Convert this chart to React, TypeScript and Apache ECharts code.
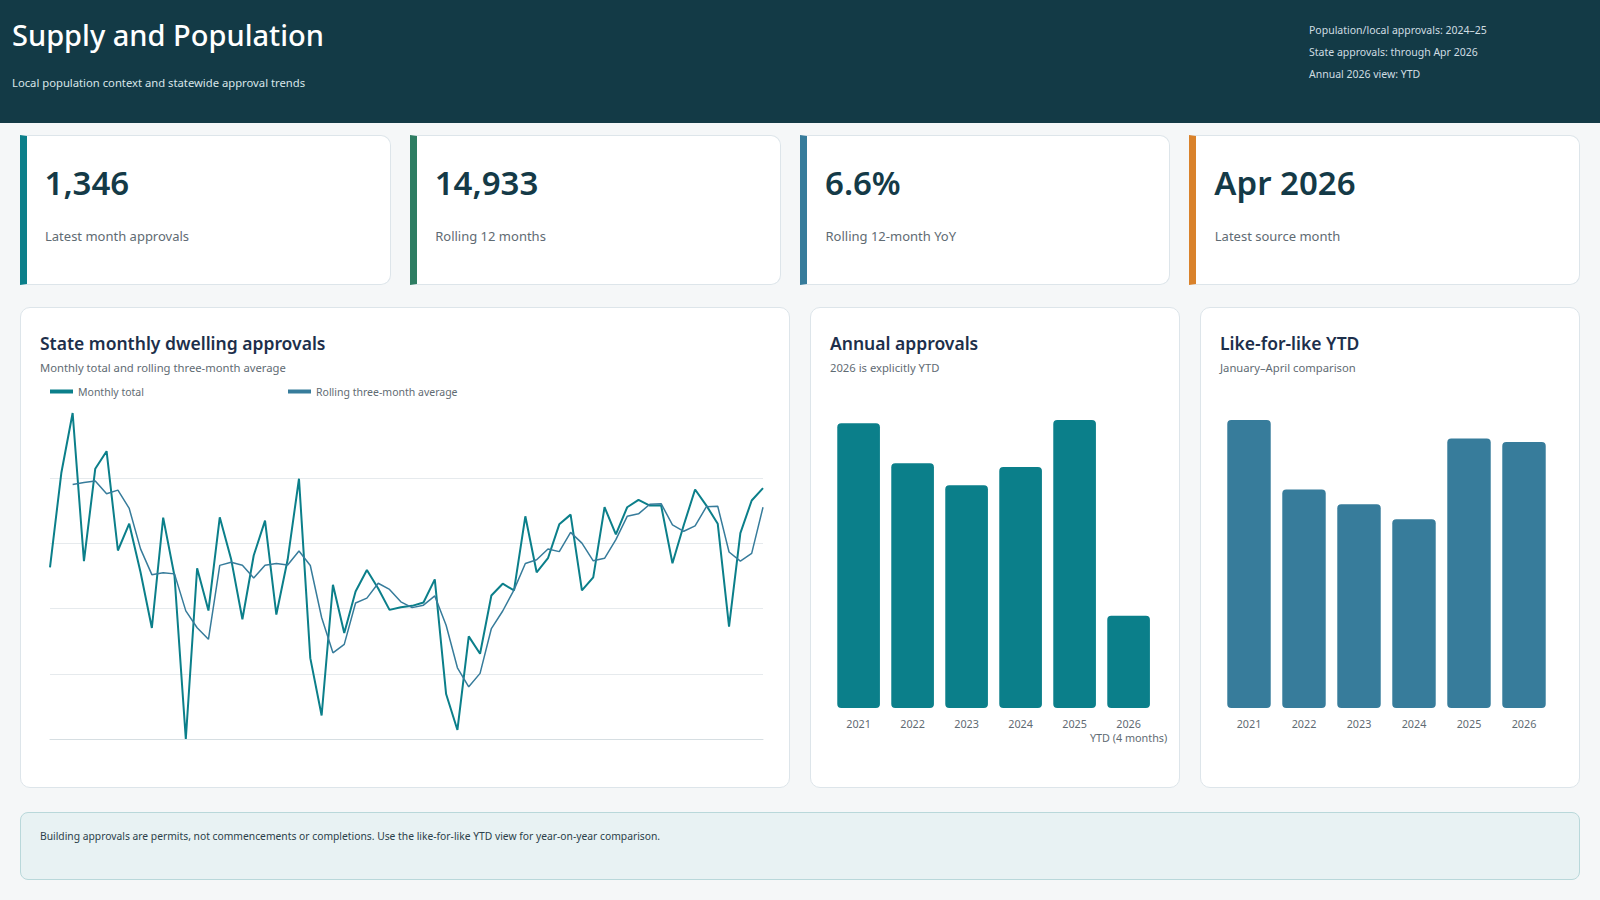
import React, { useEffect, useRef } from "react";
import * as echarts from "echarts";

// Monthly state dwelling approvals, Jan 2021 – Apr 2026
const monthly2021 = [1110, 1391, 1570, 1128, 1404, 1456, 1160, 1240, 1095, 929, 1258, 1084];
const monthly2022 = [598, 1107, 981, 1259, 1135, 955, 1145, 1249, 969, 1133, 1374, 839];
const monthly2023 = [668, 1058, 914, 1038, 1102, 1047, 983, 991, 995, 1005, 1074, 732];
const monthly2024 = [625, 904, 852, 1026, 1061, 1041, 1262, 1095, 1137, 1238, 1267, 1041];
const monthly2025 = [1080, 1289, 1208, 1289, 1311, 1294, 1294, 1122, 1236, 1342, 1294, 1240];
const monthly2026 = [933, 1212, 1309, 1346];

const years = ["2021", "2022", "2023", "2024", "2025", "2026"];
const monthNames = ["Jan", "Feb", "Mar", "Apr", "May", "Jun", "Jul", "Aug", "Sep", "Oct", "Nov", "Dec"];
const annualLabels = ["2021", "2022", "2023", "2024", "2025", "2026\nYTD (4 months)"];
const ytdLabels = ["2021", "2022", "2023", "2024", "2025", "2026"];
const ytdMonths = 4;

const kpiValues = ["1,346", "14,933", "6.6%", "Apr 2026"];
const kpiLabels = ["Latest month approvals", "Rolling 12 months", "Rolling 12-month YoY", "Latest source month"];
const metaLines = ["Population/local approvals: 2024–25", "State approvals: through Apr 2026", "Annual 2026 view: YTD"];

const byYear = [monthly2021, monthly2022, monthly2023, monthly2024, monthly2025, monthly2026];
const monthlyTotals = byYear.flat();
const monthLabels = byYear.flatMap((arr, yi) => arr.map((_, mi) => `${monthNames[mi]} ${years[yi]}`));
const rollingAvg = monthlyTotals.map((_, i) =>
  i < 2 ? null : (monthlyTotals[i] + monthlyTotals[i - 1] + monthlyTotals[i - 2]) / 3
);
const sum = (a: number[]) => a.reduce((s, v) => s + v, 0);
const annualTotals = byYear.map(sum);
const ytdTotals = byYear.map((a) => sum(a.slice(0, ytdMonths)));

const FONT = '"Noto Sans", "Open Sans", sans-serif';
const TEAL = "#0b7f8a";
const BLUE = "#377c9b";
const GREEN = "#2e7d62";
const ORANGE = "#d9822b";
const INK = "#143a47";
const TITLE = "#1d2f4b";
const MUTED = "#5f6b73";
const BORDER = "#dde5ea";

function EChart({ option, style }: { option: any; style: React.CSSProperties }) {
  const ref = useRef<HTMLDivElement>(null);
  useEffect(() => {
    const chart = echarts.init(ref.current!, null, { renderer: "svg" });
    chart.setOption(option);
    return () => chart.dispose();
  }, []);
  return <div ref={ref} style={{ position: "absolute", ...style }} />;
}

const legendItem = (name: string, left: number) => ({
  data: [name],
  left,
  top: 80,
  padding: 0,
  icon: "rect",
  itemWidth: 23,
  itemHeight: 4,
  selectedMode: false,
  textStyle: { fontSize: 10.5, color: MUTED, fontFamily: FONT },
});

const lineOption = {
  animation: false,
  textStyle: { fontFamily: FONT },
  legend: [legendItem("Monthly total", 30), legendItem("Rolling three-month average", 268)],
  grid: { left: 30, right: 27, top: 107, bottom: 49 },
  xAxis: {
    type: "category",
    data: monthLabels,
    boundaryGap: false,
    axisLine: { lineStyle: { color: "#d6dee2" } },
    axisTick: { show: false },
    axisLabel: { show: false },
    splitLine: { show: false },
  },
  yAxis: [
    { type: "value", min: "dataMin", max: "dataMax", show: false },
    {
      type: "value",
      min: 0,
      max: 5,
      interval: 1,
      axisLine: { show: false },
      axisTick: { show: false },
      axisLabel: { show: false },
      splitLine: { show: true, showMinLine: false, showMaxLine: false, lineStyle: { color: "#e6eaed", width: 1 } },
    },
  ],
  series: [
    {
      name: "Monthly total",
      type: "line",
      yAxisIndex: 0,
      data: monthlyTotals,
      symbol: "none",
      lineStyle: { width: 2, color: TEAL },
      itemStyle: { color: TEAL },
    },
    {
      name: "Rolling three-month average",
      type: "line",
      yAxisIndex: 0,
      data: rollingAvg,
      symbol: "none",
      lineStyle: { width: 1.5, color: BLUE },
      itemStyle: { color: BLUE },
    },
  ],
};

const barOption = (labels: string[], values: number[], color: string, left: number, right: number) => ({
  animation: false,
  textStyle: { fontFamily: FONT },
  grid: { left, right, top: 114, bottom: 80 },
  xAxis: {
    type: "category",
    data: labels,
    axisLine: { show: false },
    axisTick: { show: false },
    axisLabel: { color: MUTED, fontSize: 10.8, lineHeight: 14.5, margin: 8, interval: 0, fontFamily: FONT },
  },
  yAxis: { type: "value", min: 0, max: "dataMax", show: false },
  series: [
    {
      type: "bar",
      data: values,
      barCategoryGap: "21%",
      itemStyle: { color, borderRadius: 4 },
    },
  ],
});

const abs = (s: React.CSSProperties): React.CSSProperties => ({ position: "absolute", ...s });

export default function App() {
  const kpiBoxes = [
    { left: 19.5, width: 371, accent: TEAL },
    { left: 409.7, width: 371, accent: GREEN },
    { left: 800, width: 370, accent: BLUE },
    { left: 1189.3, width: 391, accent: ORANGE },
  ];
  const chartCards = [
    { left: 20, width: 770, title: "State monthly dwelling approvals", sub: "Monthly total and rolling three-month average" },
    { left: 810, width: 370, title: "Annual approvals", sub: "2026 is explicitly YTD" },
    { left: 1200, width: 380, title: "Like-for-like YTD", sub: "January–April comparison" },
  ];
  return (
    <div
      style={{
        position: "fixed",
        left: 0,
        top: 0,
        width: 1600,
        height: 900,
        overflow: "hidden",
        background: "#f5f7f8",
        fontFamily: FONT,
      }}
    >
      {/* Header band */}
      <div style={abs({ left: 0, top: 0, width: 1600, height: 123, background: "#133a46" })} />
      <div style={abs({ left: 12, top: 17, fontSize: 29, lineHeight: "36px", fontWeight: 500, color: "#ffffff", whiteSpace: "nowrap" })}>
        Supply and Population
      </div>
      <div style={abs({ left: 12, top: 75.5, fontSize: 11.25, lineHeight: "14px", color: "#d8e5e9", whiteSpace: "nowrap" })}>
        Local population context and statewide approval trends
      </div>
      {metaLines.map((t, i) => (
        <div
          key={t}
          style={abs({ left: 1309, top: [23, 45.3, 66.8][i], fontSize: 10.5, lineHeight: "14px", color: "#d0dde2", whiteSpace: "nowrap" })}
        >
          {t}
        </div>
      ))}

      {/* KPI cards */}
      {kpiBoxes.map((k, i) => (
        <React.Fragment key={i}>
          <div
            style={abs({
              left: k.left,
              top: 135,
              width: k.width,
              height: 150,
              boxSizing: "border-box",
              background: "#ffffff",
              border: `1px solid ${BORDER}`,
              borderLeft: `7px solid ${k.accent}`,
              borderRadius: "0 10px 10px 0",
            })}
          />
          <div style={abs({ left: k.left + 25, top: 162.7, fontSize: 33, lineHeight: "40px", fontWeight: 600, color: INK, whiteSpace: "nowrap" })}>
            {kpiValues[i]}
          </div>
          <div style={abs({ left: k.left + 25.5, top: 226.7, fontSize: 13, lineHeight: "18px", color: MUTED, whiteSpace: "nowrap" })}>
            {kpiLabels[i]}
          </div>
        </React.Fragment>
      ))}

      {/* Chart cards */}
      {chartCards.map((c) => (
        <React.Fragment key={c.title}>
          <div
            style={abs({
              left: c.left,
              top: 306.5,
              width: c.width,
              height: 481.5,
              boxSizing: "border-box",
              background: "#ffffff",
              border: `1px solid ${BORDER}`,
              borderRadius: 10,
            })}
          />
          <div style={abs({ left: c.left + 20, top: 331, fontSize: 17.5, lineHeight: "24px", fontWeight: 600, color: TITLE, whiteSpace: "nowrap" })}>
            {c.title}
          </div>
          <div style={abs({ left: c.left + 20, top: 359.5, fontSize: 11.25, lineHeight: "16px", color: MUTED, whiteSpace: "nowrap" })}>
            {c.sub}
          </div>
        </React.Fragment>
      ))}

      <EChart option={lineOption} style={{ left: 20, top: 306, width: 770, height: 482 }} />
      <EChart option={barOption(annualLabels, annualTotals, TEAL, 21.6, 24.4)} style={{ left: 810, top: 306, width: 370, height: 482 }} />
      <EChart option={barOption(ytdLabels, ytdTotals, BLUE, 21.5, 28.5)} style={{ left: 1200, top: 306, width: 380, height: 482 }} />

      {/* Footnote */}
      <div
        style={abs({
          left: 20,
          top: 812,
          width: 1560,
          height: 68,
          boxSizing: "border-box",
          background: "#e8f2f3",
          border: "1px solid #b9d8da",
          borderRadius: 8,
        })}
      />
      <div style={abs({ left: 40, top: 829, fontSize: 10.3, lineHeight: "14px", color: "#2b3f4a", whiteSpace: "nowrap" })}>
        Building approvals are permits, not commencements or completions. Use the like-for-like YTD view for year-on-year comparison.
      </div>
    </div>
  );
}
